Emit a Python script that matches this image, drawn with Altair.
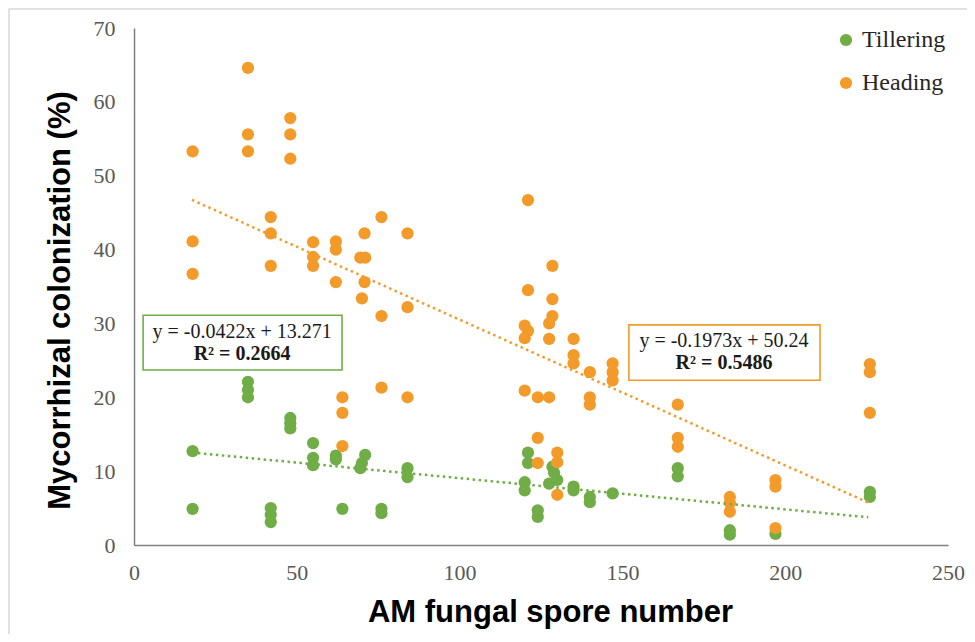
import altair as alt
import pandas as pd

# ---- data ----
series_names = ["Tillering", "Heading"]
series_colors = ["#70AD47", "#F29B2B"]

till_x = [18, 18, 35, 35, 35, 42, 42, 42, 48, 48, 48, 55, 55, 55, 62, 62, 64,
          71, 70, 69.5, 76, 76, 84, 84, 121, 121, 120, 120, 124, 124,
          128.5, 129, 130, 127.5, 135, 135, 140, 140, 147, 167, 167,
          183, 183, 197, 226, 226]
till_y = [12.7, 4.9, 22.1, 21.0, 20.0, 5.0, 4.1, 3.1, 17.2, 16.5, 15.8, 13.8, 11.8, 10.8, 12.1, 11.6, 4.9,
          12.2, 11.1, 10.4, 4.9, 4.3, 10.4, 9.2, 12.5, 11.1, 8.5, 7.4, 4.7, 3.8,
          10.6, 9.8, 8.8, 8.3, 7.9, 7.4, 6.5, 5.8, 7.0, 10.4, 9.3,
          2.0, 1.4, 1.5, 7.2, 6.5]

head_x = [18, 18, 18, 35, 35, 35, 42, 42, 42, 48, 48, 48, 55, 55, 55, 62, 62, 62,
          64, 64, 64, 70.8, 69.5, 71, 70.8, 70, 76, 76, 76, 84, 84, 84,
          121, 121, 120, 121, 120, 120, 124, 124, 124,
          128.5, 128.5, 128.5, 127.5, 127.5, 127.5, 130, 130, 130,
          135, 135, 135, 140, 140, 140, 147, 147, 147, 167, 167, 167,
          183, 183, 183, 197, 197, 197, 226, 226, 226]
head_y = [53.3, 41.1, 36.7, 64.6, 55.6, 53.3, 44.4, 42.2, 37.8, 57.8, 55.6, 52.3, 41.0, 39.0, 37.8, 41.1, 40.0, 35.6,
          20.0, 17.9, 13.4, 42.2, 38.9, 38.9, 35.6, 33.4, 44.4, 31.0, 21.3, 42.2, 32.2, 20.0,
          46.7, 34.5, 29.7, 29.0, 28.0, 20.9, 20.0, 14.5, 11.1,
          37.8, 33.3, 31.0, 30.0, 27.9, 20.0, 12.5, 11.2, 6.8,
          27.9, 25.7, 24.6, 23.4, 20.0, 19.0, 24.6, 23.4, 22.3, 19.0, 14.5, 13.3,
          6.5, 5.7, 4.5, 8.8, 7.9, 2.3, 24.5, 23.4, 17.9]

# linear trendlines (end points, from the equations shown)
trend_series = ["Tillering", "Tillering", "Heading", "Heading"]
trend_x = [17.8, 225.5, 17.8, 225.5]
trend_y = [12.52, 3.75, 46.73, 5.75]

# equation boxes
box_series = ["Tillering", "Heading"]
box_x1 = [2.8, 152.0]
box_x2 = [63.9, 210.7]
box_y1 = [31.1, 29.8]
box_y2 = [23.7, 22.3]
eq_text = ["y = -0.0422x  + 13.271", "y = -0.1973x  + 50.24"]
r2_text = ["R\u00b2 = 0.2664", "R\u00b2 = 0.5486"]
eq_cx = [33.2, 181.2]
eq_y = [28.0, 26.8]
r2_y = [25.0, 23.8]

x_ticks = [0, 50, 100, 150, 200, 250]
y_ticks = [0, 10, 20, 30, 40, 50, 60, 70]

points = pd.DataFrame({
    "x": till_x + head_x,
    "y": till_y + head_y,
    "series": ["Tillering"] * len(till_x) + ["Heading"] * len(head_x),
    "order": [0] * len(till_x) + [1] * len(head_x),
})
trend = pd.DataFrame({"x": trend_x, "y": trend_y, "series": trend_series})
boxes = pd.DataFrame({"series": box_series, "x1": box_x1, "x2": box_x2,
                      "y1": box_y1, "y2": box_y2, "eq": eq_text, "r2": r2_text,
                      "cx": eq_cx, "ey": eq_y, "ry": r2_y})

color_scale = alt.Scale(domain=series_names, range=series_colors)

xs = alt.Scale(domain=[0, 250], nice=False)
ys = alt.Scale(domain=[0, 70], nice=False)

x_axis = alt.Axis(values=x_ticks, title="AM fungal spore number", grid=False, ticks=False,
                  tickSize=0, labelPadding=17, labelFlush=False,
                  labelFont="Liberation Serif", labelFontSize=22,
                  labelColor="#595959", domainColor="#808080", domainWidth=1.5,
                  titleFont="Liberation Sans", titleFontSize=31, titleFontWeight="bold",
                  titleColor="#000000", titleX=416, titleY=76, titleBaseline="alphabetic")
y_axis = alt.Axis(values=y_ticks, title="Mycorrhizal colonization (%)", grid=False, ticks=False,
                  tickSize=0, labelPadding=19, labelFlush=False,
                  labelFont="Liberation Serif", labelFontSize=22,
                  labelColor="#595959", domainColor="#808080", domainWidth=1.5,
                  titleFont="Liberation Sans", titleFontSize=31, titleFontWeight="bold",
                  titleColor="#000000", titleX=-65, titleY=272, titleBaseline="alphabetic",
                  titleAngle=270)

legend = alt.Legend(orient="none", legendX=700, legendY=0, title=None,
                    symbolSize=150, symbolType="circle",
                    rowPadding=19, labelOffset=4, symbolStrokeWidth=0)

frame = alt.Chart(pd.DataFrame({"a": [0]})).mark_rect(
    fillOpacity=0, stroke="#d9d9d9", strokeWidth=1.5
).encode(x=alt.value(-125), x2=alt.value(900), y=alt.value(-19), y2=alt.value(700))

pts = alt.Chart(points).mark_circle(size=150, opacity=1).encode(
    x=alt.X("x:Q", scale=xs, axis=x_axis),
    y=alt.Y("y:Q", scale=ys, axis=y_axis),
    color=alt.Color("series:N", scale=color_scale, sort=series_names, legend=legend),
    order=alt.Order("order:Q"),
)

trend_layer = alt.Chart(trend).mark_line(strokeWidth=2.5, strokeDash=[2.5, 3.5]).encode(
    x=alt.X("x:Q", scale=xs),
    y=alt.Y("y:Q", scale=ys),
    color=alt.Color("series:N", scale=color_scale, sort=series_names, legend=legend),
    detail="series:N",
)

box_layer = alt.Chart(boxes).mark_rect(fill="white", strokeWidth=1.6).encode(
    x=alt.X("x1:Q", scale=xs), x2="x2:Q",
    y=alt.Y("y1:Q", scale=ys), y2="y2:Q",
    stroke=alt.Stroke("series:N", scale=color_scale, legend=None),
)
eq_layer = alt.Chart(boxes).mark_text(font="Liberation Serif", fontSize=20, align="center",
                                      baseline="alphabetic", color="#1a1a1a").encode(
    x=alt.X("cx:Q", scale=xs), y=alt.Y("ey:Q", scale=ys), text="eq:N")
r2_layer = alt.Chart(boxes).mark_text(font="Liberation Serif", fontSize=20, align="center",
                                      baseline="alphabetic", fontWeight="bold", color="#1a1a1a").encode(
    x=alt.X("cx:Q", scale=xs), y=alt.Y("ry:Q", scale=ys), text="r2:N")

chart = alt.layer(frame, pts, trend_layer, box_layer, eq_layer, r2_layer).resolve_scale(
    color="shared", stroke="independent"
).properties(
    width=814, height=517,
    autosize=alt.AutoSizeParams(type="none"),
    padding={"left": 126, "top": 20, "right": 19, "bottom": 89},
).configure_view(stroke=None).configure_legend(
    labelFont="Liberation Serif", labelFontSize=24, labelColor="#262626"
)

chart.save("out.html", embed_options={"renderer": "svg", "actions": False})
